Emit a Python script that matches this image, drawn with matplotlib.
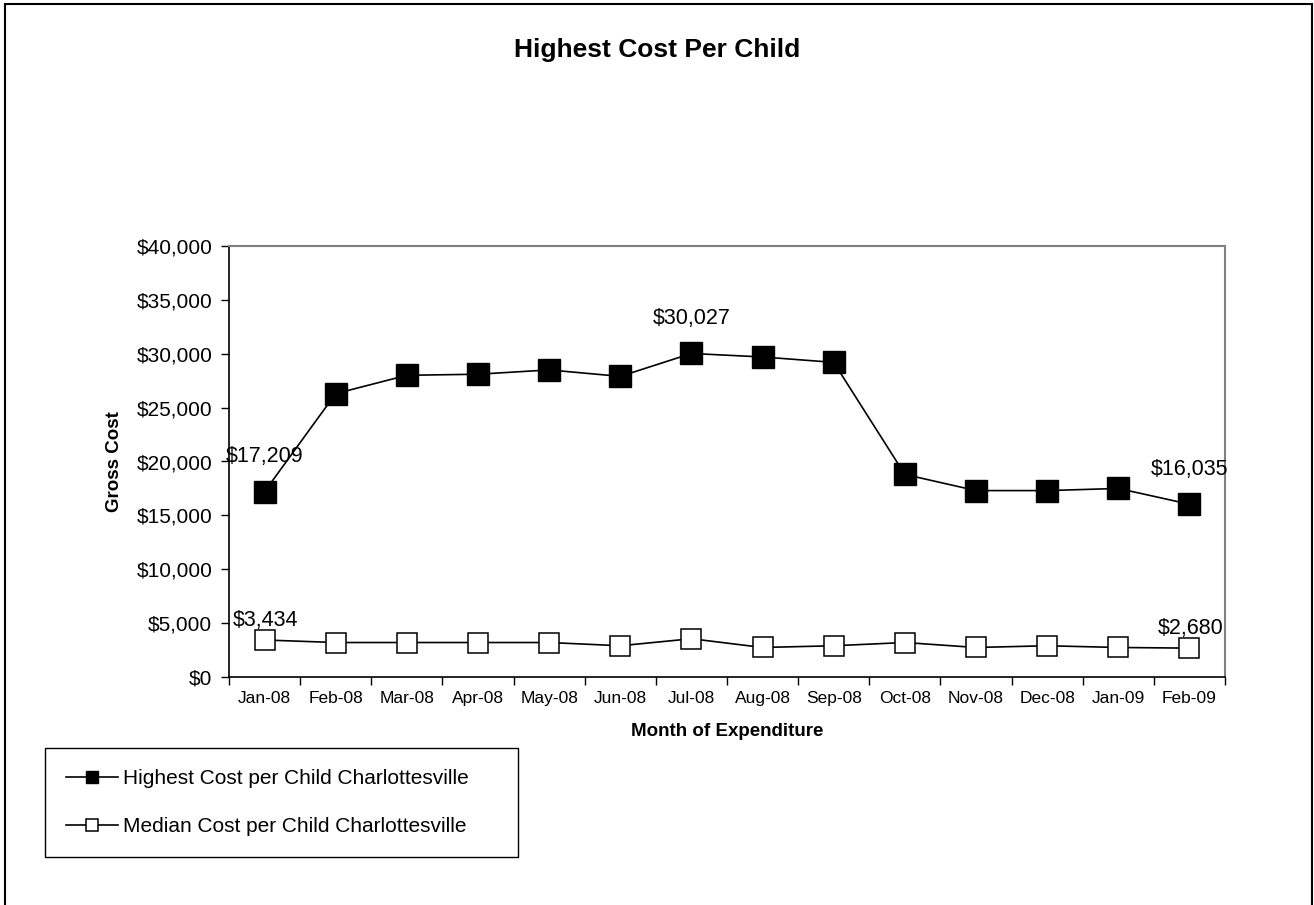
import numpy as np
import matplotlib
matplotlib.use("Agg")
import matplotlib.pyplot as plt
from matplotlib.patches import Rectangle
from matplotlib.ticker import FuncFormatter

plt.rcParams['font.family'] = ['Liberation Sans', 'DejaVu Sans']

months = ['Jan-08', 'Feb-08', 'Mar-08', 'Apr-08', 'May-08', 'Jun-08', 'Jul-08',
          'Aug-08', 'Sep-08', 'Oct-08', 'Nov-08', 'Dec-08', 'Jan-09', 'Feb-09']
highest = [17209, 26300, 28000, 28100, 28500, 27900, 30027,
           29700, 29200, 18800, 17300, 17300, 17500, 16035]
median = [3434, 3200, 3200, 3200, 3200, 2900, 3550,
          2740, 2900, 3200, 2740, 2900, 2740, 2680]
labelled = [0, 6, 13]
W, H = 1314, 905

fig = plt.figure(figsize=(W / 100, H / 100), dpi=100)
ax = fig.add_axes([229 / W, 1 - 677 / H, (1225 - 229) / W, (677 - 246) / H])

x = np.arange(len(months))
l1, = ax.plot(x, highest, color='black', lw=1.2, marker='s', ms=16,
              mfc='black', mec='black', label='Highest Cost per Child Charlottesville')
l2, = ax.plot(x, median, color='black', lw=1.2, marker='s', ms=15,
              mfc='white', mec='black', mew=1.1, label='Median Cost per Child Charlottesville')

# value labels on first, peak and last points
for i in labelled:
    ax.annotate(f'${highest[i]:,}', (x[i], highest[i]), xytext=(0, 25),
                textcoords='offset points', ha='center', va='center', fontsize=15.5)
for i in [0, 13]:
    ax.annotate(f'${median[i]:,}', (x[i], median[i]), xytext=(1, 14),
                textcoords='offset points', ha='center', va='center', fontsize=15.5)

ax.set_xlim(-0.5, len(months) - 0.5)
ax.set_ylim(0, 40000)
ax.set_yticks(np.arange(0, 40001, 5000))
ax.yaxis.set_major_formatter(FuncFormatter(lambda v, p: f'${v:,.0f}'))
ax.tick_params(axis='y', direction='out', length=6, width=1, labelsize=15, pad=6)

ax.set_xticks(np.arange(-0.5, len(months)), labels=[])
ax.set_xticks(x, labels=months, minor=True)
ax.tick_params(axis='x', which='major', direction='out', length=6, width=1)
ax.tick_params(axis='x', which='minor', length=0, labelsize=12.5, pad=10)

for s in ['left', 'bottom']:
    ax.spines[s].set_color('black')
    ax.spines[s].set_linewidth(1.2)
for s in ['top', 'right']:
    ax.spines[s].set_color('#808080')
    ax.spines[s].set_linewidth(1.5)

ax.set_xlabel('Month of Expenditure', fontsize=13.5, fontweight='bold', labelpad=12)
ax.set_ylabel('Gross Cost', fontsize=13.5, fontweight='bold', labelpad=10)

fig.text(0.5, 1 - 50 / H, 'Highest Cost Per Child', ha='center', va='center',
         fontsize=19, fontweight='bold')

leg = fig.legend(handles=[l1, l2], loc='upper left',
                 bbox_to_anchor=(45 / W, 1 - 857 / H, (518 - 45) / W, (857 - 748) / H),
                 mode='expand', borderaxespad=0, fontsize=15, markerscale=0.55,
                 handlelength=2.5, handletextpad=0.25, labelspacing=1.4, borderpad=1.0,
                 fancybox=False, edgecolor='black', framealpha=1)
leg.get_frame().set_linewidth(1.0)

fig.patches.append(Rectangle((5 / W, -0.01), (1312 - 5) / W, 1.01 - 4 / H,
                             transform=fig.transFigure, fill=False,
                             edgecolor='black', lw=1.5))

fig.savefig('out.png', dpi=100)
